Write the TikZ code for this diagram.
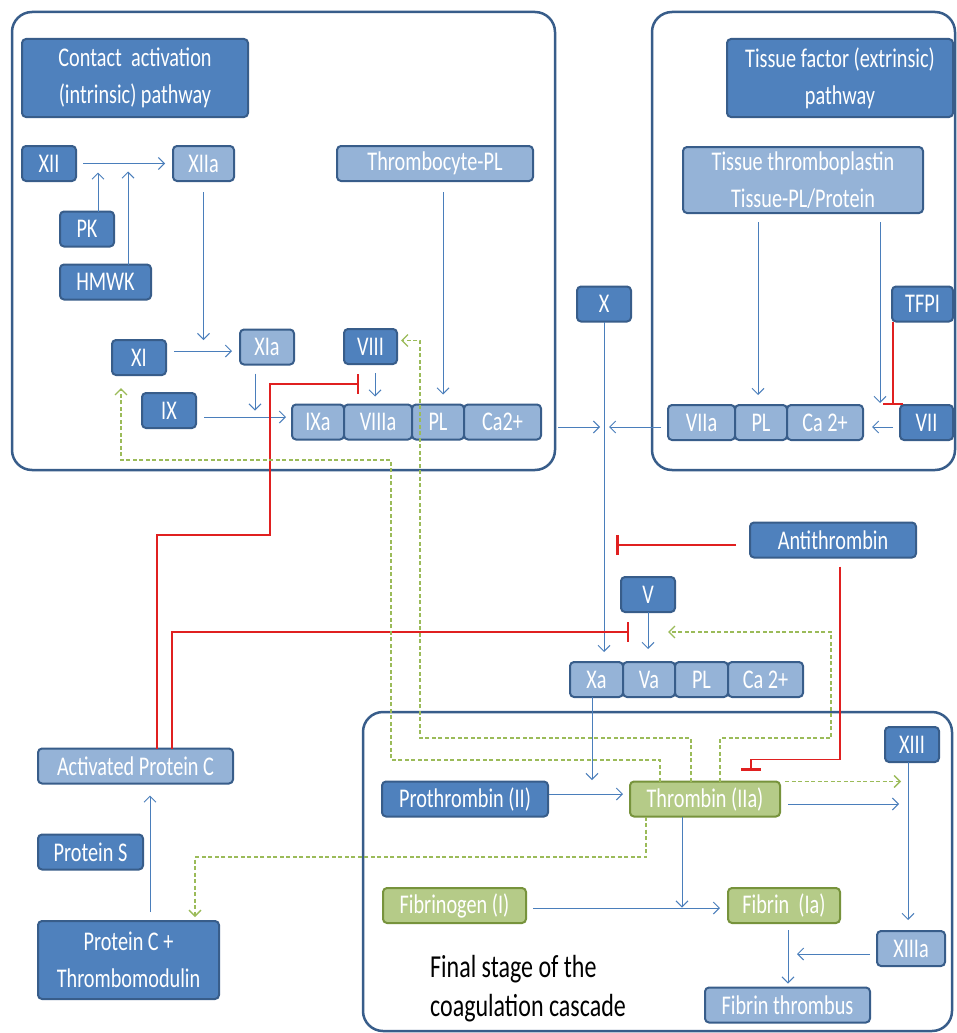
\documentclass[tikz,border=0pt]{standalone}
\usepackage{fontspec}
\setmainfont{Carlito}[FakeStretch=0.75]
\usetikzlibrary{positioning,arrows.meta}
\definecolor{bdark}{HTML}{385D8A}
\definecolor{bmid}{HTML}{4F81BD}
\definecolor{blight}{HTML}{95B3D7}
\definecolor{gfill}{HTML}{B5CB88}
\definecolor{gdark}{HTML}{77933C}
\definecolor{lineblue}{HTML}{4A7EBB}
\definecolor{fbgreen}{HTML}{9BBB59}
\definecolor{inhred}{HTML}{E02020}
\newcommand{\labfont}{\fontsize{27}{37}\selectfont}
\newcommand{\finalfont}{\fontsize{32}{39}\selectfont}

\begin{document}
\begin{tikzpicture}[x=1pt,y=-1pt,
  box/.style={draw=bdark,line width=2pt,rounded corners=4pt,text=white,inner sep=0pt,outer sep=0pt,minimum height=35pt,font=\labfont,align=center},
  dark/.style={box,fill=bmid},
  light/.style={box,fill=blight},
  green/.style={box,fill=gfill,draw=gdark},
  panel/.style={draw=bdark,line width=2.5pt,rounded corners=20pt},
  arr/.style={draw=lineblue,line width=1pt,-{Straight Barb[length=6pt,width=12pt]}},
  fbk/.style={draw=fbgreen,line width=1.3pt,dash pattern=on 4pt off 2.5pt,-{Straight Barb[length=6pt,width=12pt]}},
  inh/.style={draw=inhred,line width=1.3pt,-{Bar[width=20pt,line width=2.5pt]}}]
\fill[white] (0,0) rectangle (957,1033);
\useasboundingbox (0,0) rectangle (957,1033);

\draw[panel] (12,12) rectangle (555,470);
\draw[panel] (652,12) rectangle (955,470);
\draw[panel] (363,712) rectangle (952,1031);

% contact activation
\node[dark,minimum width=226pt,minimum height=78pt] (intr) at (135,78) {Contact~ activation\\(intrinsic) pathway};
\node[dark,minimum width=54pt] (xii) at (49,163.5) {XII};
\node[light,minimum width=61pt] (xiia) at (203.5,163.5) {XIIa};
\node[dark,minimum width=54pt] (pk) at (87,229) {PK};
\node[dark,minimum width=91pt] (hmwk) at (105.5,282) {HMWK};
\node[light,minimum width=196pt] (tpl) at (435,163.5) {Thrombocyte-PL};
\node[dark,minimum width=54pt] (xi) at (139,357.5) {XI};
\node[light,minimum width=54pt] (xia) at (267,347) {XIa};
\node[dark,minimum width=53pt] (viii) at (370.5,346.5) {VIII};
\node[dark,minimum width=54pt] (ix) at (169,410.5) {IX};
\node[light,minimum width=52pt] (ixa) at (318,422) {IXa};
\node[light,minimum width=68pt,right=0pt of ixa] (viiia) {VIIIa};
\node[light,minimum width=52pt,right=0pt of viiia] (pli) {PL};
\node[light,minimum width=77pt,right=0pt of pli] (cai) {Ca2+};

% tissue factor
\node[dark,minimum width=226pt,minimum height=78pt] (extr) at (840,78) {Tissue factor (extrinsic)\\pathway};
\node[light,minimum width=240pt,minimum height=66pt] (tt) at (803,180) {Tissue thromboplastin\\Tissue-PL/Protein};
\node[dark,minimum width=54pt] (x) at (604,304) {X};
\node[dark,minimum width=61pt] (tfpi) at (922.5,304) {TFPI};
\node[light,minimum width=67pt] (viia) at (701.5,422.5) {VIIa};
\node[light,minimum width=52pt,right=0pt of viia] (ple) {PL};
\node[light,minimum width=76pt,right=0pt of ple] (cae) {Ca 2+};
\node[dark,minimum width=53pt] (vii) at (926.5,422.5) {VII};

% common
\node[dark,minimum width=166pt] (at) at (833,540) {Antithrombin};
\node[dark,minimum width=54pt] (v) at (648,594.5) {V};
\node[light,minimum width=53pt] (xa) at (596.5,679.5) {Xa};
\node[light,minimum width=52pt,right=0pt of xa] (va) {Va};
\node[light,minimum width=53pt,right=0pt of va] (plx) {PL};
\node[light,minimum width=75pt,right=0pt of plx] (cax) {Ca 2+};

\node[light,minimum width=195pt] (apc) at (135.5,766) {Activated Protein C};
\node[dark,minimum width=105pt] (ps) at (90.5,852) {Protein S};
\node[dark,minimum width=181pt,minimum height=78pt] (pct) at (128.5,960) {Protein C +\\Thrombomodulin};

% final stage
\node[dark,minimum width=54pt] (xiii) at (912,744.5) {XIII};
\node[dark,minimum width=166pt] (pt) at (465,799) {Prothrombin (II)};
\node[green,minimum width=150pt] (th) at (705,799) {Thrombin (IIa)};
\node[green,minimum width=143pt] (fg) at (454.5,905.5) {Fibrinogen (I)};
\node[green,minimum width=112pt] (fib) at (784,905.5) {Fibrin~ (Ia)};
\node[light,minimum width=68pt] (xiiia) at (911,948.5) {XIIIa};
\node[light,minimum width=165pt] (ft) at (787.5,1005) {Fibrin thrombus};
\node[anchor=west,align=left,inner sep=0pt,font=\finalfont] (stage) at (430,989) {Final stage of the\\coagulation cascade};

% activation
\draw[arr,shorten <=7pt,shorten >=8pt] (xii) -- (xiia);
\draw[arr] ([xshift=11pt]pk.north) -- ++(0,-39);
\draw[arr] ([xshift=22.5pt]hmwk.north) -- ++(0,-93);
\draw[arr] ([yshift=-11pt]xiia.south) -- ++(0,148);
\draw[arr] ([xshift=8pt,yshift=6.5pt]xi.east) -- ([xshift=-8pt,yshift=-4pt]xia.west);
\draw[arr] ([xshift=-12pt,yshift=-9pt]xia.south) -- ++(0,37);
\draw[arr] ([xshift=8pt,yshift=-6.5pt]ix.east) -- ([xshift=-6pt,yshift=5pt]ixa.west);
\draw[arr,shorten <=9pt,shorten >=8pt] ([xshift=4.5pt]viii.south) -- ([xshift=-3pt]viiia.north);
\draw[arr,shorten <=11pt,shorten >=10pt] ([xshift=5pt]tpl.south -| pli) -- ([xshift=5pt]pli.north);
\draw[arr,shorten <=17pt,shorten >=4pt] ([yshift=-5pt]cai.east) -- ([yshift=-5pt]cai.east -| x);
\draw[arr,shorten <=9pt,shorten >=10pt] ([xshift=-3pt]tt.south -| ple) -- ([xshift=-3pt]ple.north);
\draw[arr] ([xshift=-20pt,yshift=-9pt]tt.south -| vii.west) -- ++(0,181);
\draw[arr,shorten <=7pt,shorten >=9pt] ([yshift=-4.5pt]vii.west) -- ([yshift=-4.5pt]cae.east);
\draw[arr,shorten <=7pt,shorten >=5pt] ([yshift=-4.5pt]viia.west) -- ([yshift=-4.5pt]viia.west -| x);
\draw[arr,shorten >=10pt] (x.south) -- (x.south |- xa.north);
\draw[arr,shorten >=13pt] (v.south) -- (v.south |- va.north);
\draw[arr] ([xshift=-4.5pt]xa.south) -- ++(0,83);
\draw[arr,shorten <=9pt,shorten >=12pt] ([xshift=21.5pt]pct.north) -- ([xshift=14.5pt]apc.south);
\draw[arr,shorten <=1pt,shorten >=7pt] ([yshift=5pt]pt.east) -- ([yshift=5pt]th.west);
\draw[arr,shorten <=8pt,shorten >=13pt] ([yshift=-5pt]th.east) -- ([yshift=-5pt]th.east -| xiii);
\draw[arr] ([xshift=-23pt]th.south) -- ++(0,91);
\draw[arr,shorten <=7pt,shorten >=8pt] ([yshift=-2.5pt]fg.east) -- ([yshift=-2.5pt]fib.west);
\draw[arr,shorten >=11pt] ([xshift=-4pt]xiii.south) -- ([xshift=-3pt]xiiia.north);
\draw[arr,shorten <=7pt] ([yshift=-5.5pt]xiiia.west) -- ++(-80,0);
\draw[arr,shorten <=7pt,shorten >=4pt] ([xshift=4pt]fib.south) -- ([xshift=0.5pt]ft.north);

% inhibition
\draw[inh] ([xshift=1pt]tfpi.south west) -- ([xshift=1pt]tfpi.south west |- vii.north);
\draw[inh,shorten <=14pt,shorten >=12pt] ([yshift=-5pt]at.west) -- ([yshift=-5pt]at.west -| x);
\draw[inh] ([xshift=7pt,yshift=-9pt]at.south) |- ([xshift=46pt,yshift=22pt]th.north) -- ([xshift=46pt,yshift=11pt]th.north);
\draw[inh] ([xshift=36.5pt]apc.north) |- ([xshift=-19pt,yshift=-20pt]v.south);
\draw[inh] ([xshift=21.5pt]apc.north) |- (270,535) |- ([xshift=15pt,yshift=-20pt]viii.south west);

% thrombin feedback
\draw[fbk] ([xshift=-45pt]th.north) |- (391,760) |- (121,460) -- ([xshift=-18pt,yshift=-13pt]xi.south);
\draw[fbk] ([xshift=-14pt]th.north) |- (420,738) |- ([xshift=4pt,yshift=6pt]viii.east);
\draw[fbk] ([xshift=15pt]th.north) |- (831,738) |- ([xshift=20pt,yshift=-20pt]v.south);
\draw[fbk,shorten <=5pt,shorten >=11pt] (th.north east) -- (th.north east -| xiii);
\draw[fbk] ([xshift=-59pt]th.south) |- (195,857) -- ([xshift=66.5pt,yshift=4pt]pct.north);
\end{tikzpicture}
\end{document}
